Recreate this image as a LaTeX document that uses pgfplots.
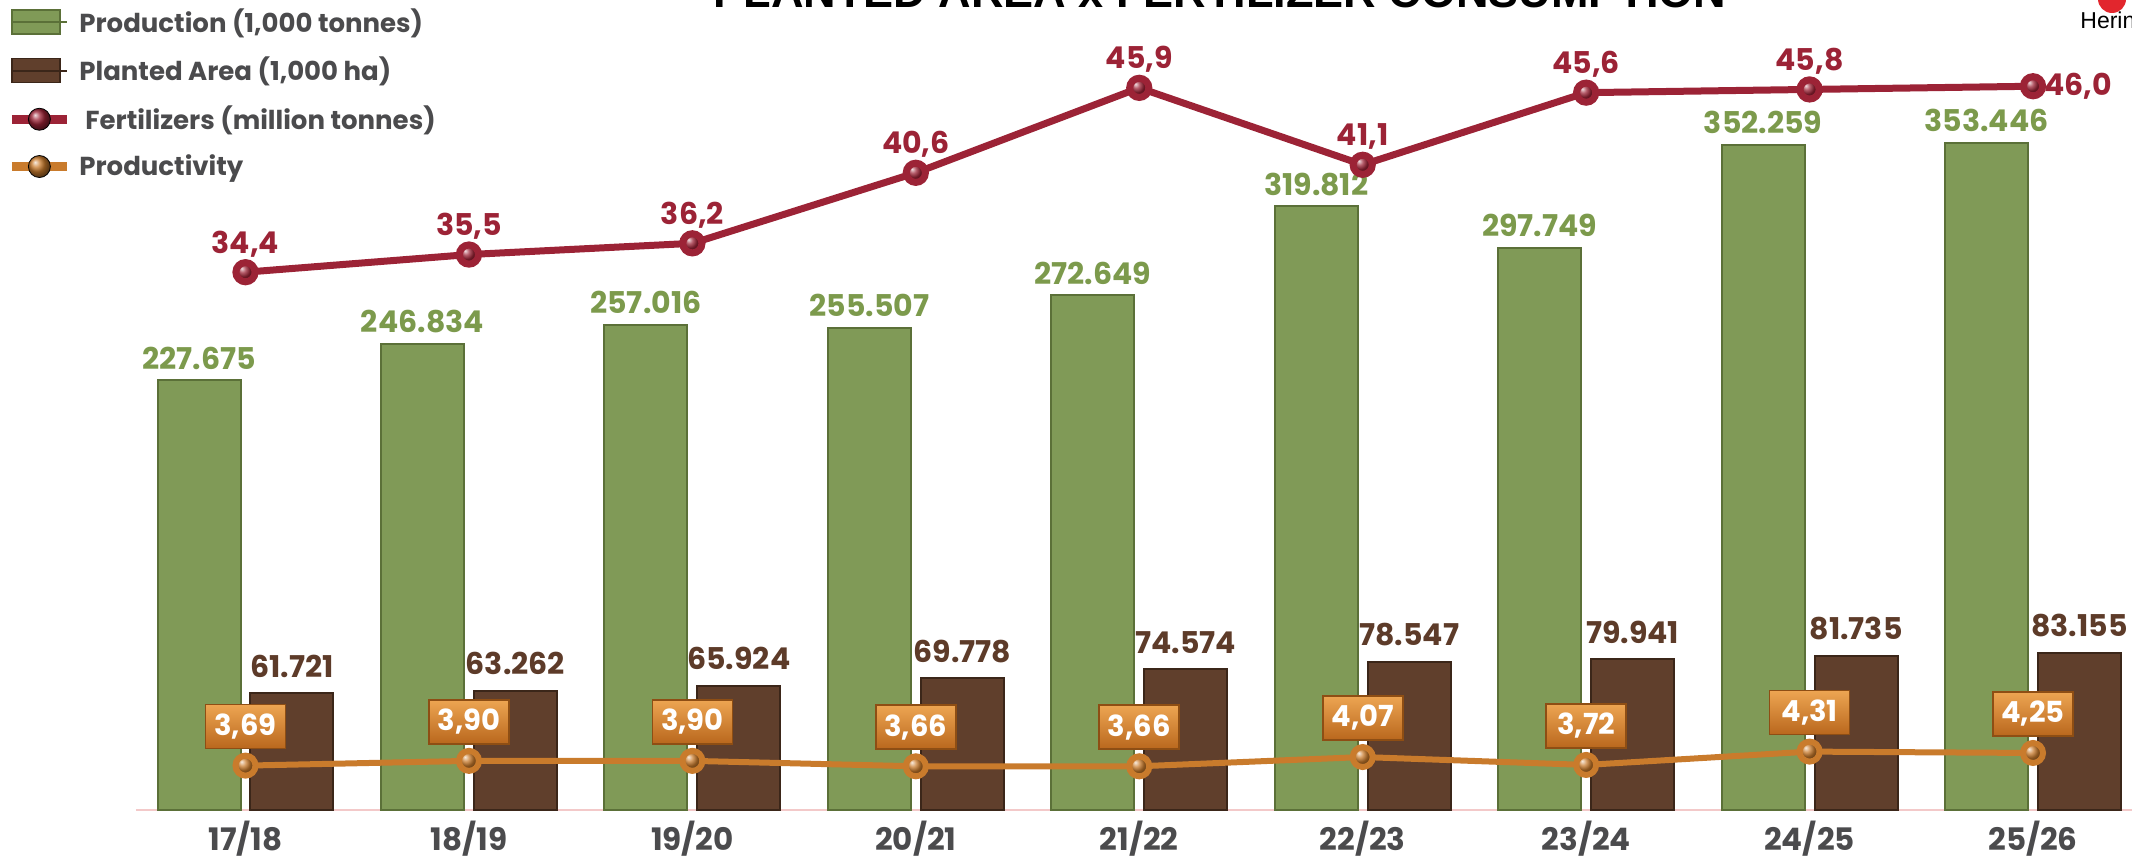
\documentclass[border=0pt]{standalone}
\usepackage{fontspec}
\setmainfont{Poppins}
\newfontfamily\titlefont{Liberation Sans}
\usepackage{graphicx}
\usepackage{pgfplots}
\pgfplotsset{compat=1.18}
\definecolor{prodgreen}{HTML}{809A57}
\definecolor{prodedge}{HTML}{5B7038}
\definecolor{areabrown}{HTML}{603F2C}
\definecolor{areaedge}{HTML}{3B2619}
\definecolor{fertred}{HTML}{9C2336}
\definecolor{prodorange}{HTML}{C97B2C}
\definecolor{boxtop}{HTML}{EDA552}
\definecolor{boxbot}{HTML}{B9671D}
\definecolor{boxedge}{HTML}{8E4E14}
\definecolor{txtgray}{HTML}{4B4B4D}
\definecolor{labgreen}{HTML}{7C9A4C}
\definecolor{labbrown}{HTML}{5D3B29}
\definecolor{axispink}{HTML}{F3C9C9}
\definecolor{logored}{HTML}{E2262D}
\pgfplotsset{
  common/.style={
    width=998pt, height=405pt, scale only axis,
    at={(0pt,0pt)}, anchor=south west,
    xmin=-0.49, xmax=8.443, clip=false,
  },
}
\newcommand\lbl{\fontsize{15}{17}\selectfont\bfseries}
\newcommand\bxl{\fontsize{14.5}{16}\selectfont\bfseries}
\newcommand\tkl{\fontsize{15.5}{17}\selectfont\bfseries}
\begin{document}
\begin{tikzpicture}
\begin{axis}[common,
  ymin=0, ymax=429000,
  axis x line=bottom, axis y line=none,
  x axis line style={-, draw=axispink, line width=0.8pt},
  xtick={0,...,8},
  xticklabels={17/18,18/19,19/20,20/21,21/22,22/23,23/24,24/25,25/26},
  major tick length=0pt,
  xticklabel style={font=\tkl, text=txtgray, anchor=base, yshift=-20pt, inner sep=0pt},
  legend style={at={(0,1)}, anchor=north west, xshift=-64.5pt, yshift=-3pt,
    draw=none, fill=none, font=\fontsize{13}{15}\selectfont\bfseries, text=txtgray,
    row sep=9pt, inner sep=0pt, nodes={inner sep=1pt},
    /tikz/every odd column/.append style={column sep=3pt}},
  legend cell align=left,
]
\addplot[ybar, bar width=41.5pt, bar shift=0pt, fill=prodgreen, draw=prodedge, line width=1pt,
  point meta=explicit symbolic, nodes near coords,
  every node near coord/.append style={font=\lbl, text=labgreen, anchor=base, yshift=5.5pt, inner sep=0pt},
  legend image code/.code={\draw[fill=prodgreen, draw=prodedge, line width=0.8pt] (0pt,-6pt) rectangle (24pt,6pt); \path (0pt,0pt) -- (27.5pt,0pt);}]
coordinates {(-0.208,227675)[227.675] (0.792,246834)[246.834] (1.792,257016)[257.016] (2.792,255507)[255.507]
 (3.792,272649)[272.649] (4.792,319812)[319.812] (5.792,297749)[297.749] (6.792,352259)[352.259] (7.792,353446)[353.446]};
\addlegendentry{Production (1,000 tonnes)}
\addplot[ybar, bar width=41.5pt, bar shift=0pt, fill=areabrown, draw=areaedge, line width=1pt,
  point meta=explicit symbolic, nodes near coords,
  every node near coord/.append style={font=\lbl, text=labbrown, anchor=base, yshift=8pt, inner sep=0pt},
  legend image code/.code={\draw[fill=areabrown, draw=areaedge, line width=0.8pt] (0pt,-6pt) rectangle (24pt,6pt); \path (0pt,0pt) -- (27.5pt,0pt);}]
coordinates {(0.208,61721)[61.721] (1.208,63262)[63.262] (2.208,65924)[65.924] (3.208,69778)[69.778]
 (4.208,74574)[74.574] (5.208,78547)[78.547] (6.208,79941)[79.941] (7.208,81735)[81.735] (8.208,83155)[83.155]};
\addlegendentry{Planted Area (1,000 ha)}
\addlegendimage{legend image code/.code={\draw[fertred, line width=4.5pt] (0pt,0pt) -- (27.5pt,0pt); \shade[ball color=fertred] (13.75pt,0pt) circle (5.5pt);}}
\addlegendentry{\hspace{3pt}Fertilizers (million tonnes)}
\addlegendimage{legend image code/.code={\draw[prodorange, line width=4.5pt] (0pt,0pt) -- (27.5pt,0pt); \shade[ball color=prodorange] (13.75pt,0pt) circle (5.5pt);}}
\addlegendentry{Productivity}
\end{axis}
\begin{axis}[common, hide axis, ymin=0.85, ymax=51.38]
\addplot[fertred, line width=3.5pt, mark=ball, mark size=4.8pt, mark options={ball color=fertred}]
coordinates {(0,34.4) (1,35.5) (2,36.2) (3,40.6) (4,45.9) (5,41.1) (6,45.6) (7,45.8) (8,46.0)};
\addplot[draw=none, mark=none, point meta=explicit symbolic, nodes near coords,
  every node near coord/.append style={font=\lbl, text=fertred, anchor=base, yshift=9.5pt, inner sep=0pt}]
coordinates {(0,34.4)[34,4] (1,35.5)[35,5] (2,36.2)[36,2] (3,40.6)[40,6] (4,45.9)[45,9]
 (5,41.1)[41,1] (6,45.6)[45,6] (7,45.8)[45,8]};
\addplot[draw=none, mark=none, point meta=explicit symbolic, nodes near coords,
  every node near coord/.append style={font=\lbl, text=fertred, anchor=west, xshift=5.5pt, inner sep=0pt}]
coordinates {(8,46.0)[46,0]};
\end{axis}
\begin{axis}[common, hide axis, ymin=1.726, ymax=37.57]
\addplot[prodorange, line width=3pt, mark=ball, mark size=5pt, mark options={ball color=prodorange}]
coordinates {(0,3.69) (1,3.90) (2,3.90) (3,3.66) (4,3.66) (5,4.07) (6,3.72) (7,4.31) (8,4.25)};
\addplot[draw=none, mark=none, point meta=explicit symbolic, nodes near coords,
  every node near coord/.append style={font=\bxl, text=white, anchor=center, yshift=19.5pt,
    minimum width=40pt, minimum height=22pt, inner sep=0pt,
    top color=boxtop, bottom color=boxbot, draw=boxedge, line width=0.8pt}]
coordinates {(0,3.69)[3,69] (1,3.90)[3,90] (2,3.90)[3,90] (3,3.66)[3,66] (4,3.66)[3,66]
 (5,4.07)[4,07] (6,3.72)[3,72] (7,4.31)[4,31] (8,4.25)[4,25]};
\end{axis}
\node[anchor=base, inner sep=0pt, text=black] at (542pt,401pt)
  {\resizebox{506.5pt}{!}{\titlefont\bfseries PLANTED AREA x FERTILIZER CONSUMPTION}};
\node[anchor=base west, inner sep=0pt, text=black, font=\titlefont\fontsize{11.5}{13}\selectfont] at (972pt,390.5pt) {Herin};
\fill[logored] (988pt,405.5pt) circle (7pt);
\pgfresetboundingbox
\useasboundingbox (-68pt,-24pt) rectangle (998pt,405pt);
\end{tikzpicture}
\end{document}
